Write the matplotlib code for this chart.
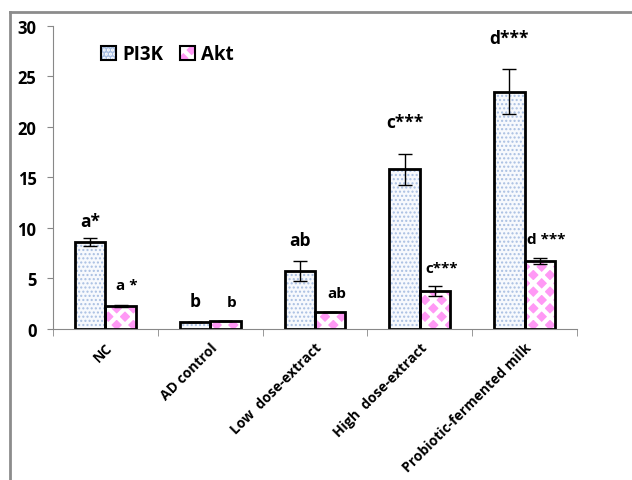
import numpy as np
import matplotlib.pyplot as plt
from matplotlib.lines import Line2D
from matplotlib.patches import Patch

groups = ['NC', 'AD control', 'Low  dose-extract', 'High  dose-extract', 'Probiotic-fermented milk']
pi3k = [8.6, 0.7, 5.75, 15.8, 23.5]
pi3k_err = [0.4, 0.0, 1.0, 1.5, 2.2]
akt = [2.3, 0.8, 1.7, 3.8, 6.7]
akt_err = [0.1, 0.0, 0.0, 0.5, 0.3]
pi3k_lab = ['a*', 'b', 'ab', 'c***', 'd***']
akt_lab = ['a *', 'b', 'ab', 'c***', 'd ***']
pi3k_lab_y = [10.7, 2.8, 8.8, 20.5, 28.8]
akt_lab_y = [4.4, 2.7, 3.6, 6.0, 8.9]

plt.rcParams['font.family'] = ['Open Sans', 'DejaVu Sans']

fig = plt.figure(figsize=(6.32, 4.81), dpi=100)
ax = fig.add_axes([0.084, 0.314, 0.829, 0.63])

x = np.arange(len(groups))
w = 0.29

# fills (hatch width is taken when each artist is made)
plt.rcParams['hatch.linewidth'] = 1.0
ax.bar(x - w / 2, pi3k, w, color='#f7f9fd', edgecolor='#a9bfe2', hatch='....', linewidth=0)
h1 = Patch(facecolor='#f7f9fd', edgecolor='#a9bfe2', hatch='....', linewidth=0)
plt.rcParams['hatch.linewidth'] = 3.0
ax.bar(x + w / 2, akt, w, color='#ff99f5', edgecolor='white', hatch='xx', linewidth=0)
h2 = Patch(facecolor='#ff99f5', edgecolor='white', hatch='xx', linewidth=0)
# outlines
ax.bar(x - w / 2, pi3k, w, color='none', edgecolor='black', linewidth=2)
ax.bar(x + w / 2, akt, w, color='none', edgecolor='black', linewidth=2)

ax.errorbar(x - w / 2, pi3k, yerr=pi3k_err, fmt='none', ecolor='black', elinewidth=1, capsize=5, capthick=1)
ax.errorbar(x + w / 2, akt, yerr=akt_err, fmt='none', ecolor='black', elinewidth=1, capsize=5, capthick=1)

for i in range(len(groups)):
    ax.text(x[i] - w / 2, pi3k_lab_y[i], pi3k_lab[i], ha='center', va='center', fontsize=12.5, fontweight='bold')
    ax.text(x[i] + w / 2 + 0.06, akt_lab_y[i], akt_lab[i], ha='center', va='center', fontsize=11, fontweight='bold')

ax.set_xlim(-0.5, len(groups) - 0.5)
ax.set_ylim(0, 30)
ax.set_yticks([0, 5, 10, 15, 20, 25, 30])
ax.tick_params(axis='y', labelsize=12, length=4, color='#888888', pad=8)
for t in ax.get_yticklabels():
    t.set_fontweight('bold')

ax.set_xticks(x)
ax.set_xticklabels(groups, rotation=45, ha='right', rotation_mode='anchor', fontsize=10, fontweight='bold')
ax.tick_params(axis='x', length=0, pad=8)
ax.set_xticks(np.arange(-0.5, len(groups)), minor=True)
ax.tick_params(axis='x', which='minor', length=5, color='#888888')

for s in ['top', 'right']:
    ax.spines[s].set_visible(False)
for s in ['left', 'bottom']:
    ax.spines[s].set_color('#888888')

box = Patch(facecolor='none', edgecolor='black', linewidth=1.5)
ax.legend([(h1, box), (h2, box)], ['PI3K', 'Akt'], loc='upper left', bbox_to_anchor=(0.06, 0.995), ncol=2,
          frameon=False, prop={'weight': 'bold', 'size': 13.5}, handlelength=0.8, handleheight=0.8,
          handletextpad=0.3, columnspacing=0.9)

# chart frame lines
fig.add_artist(Line2D([0.016, 0.016], [0.0, 0.973], color='#8c8c8c', lw=2))
fig.add_artist(Line2D([0.016, 1.0], [0.973, 0.973], color='#8c8c8c', lw=2))

fig.savefig('out.png', dpi=100)
